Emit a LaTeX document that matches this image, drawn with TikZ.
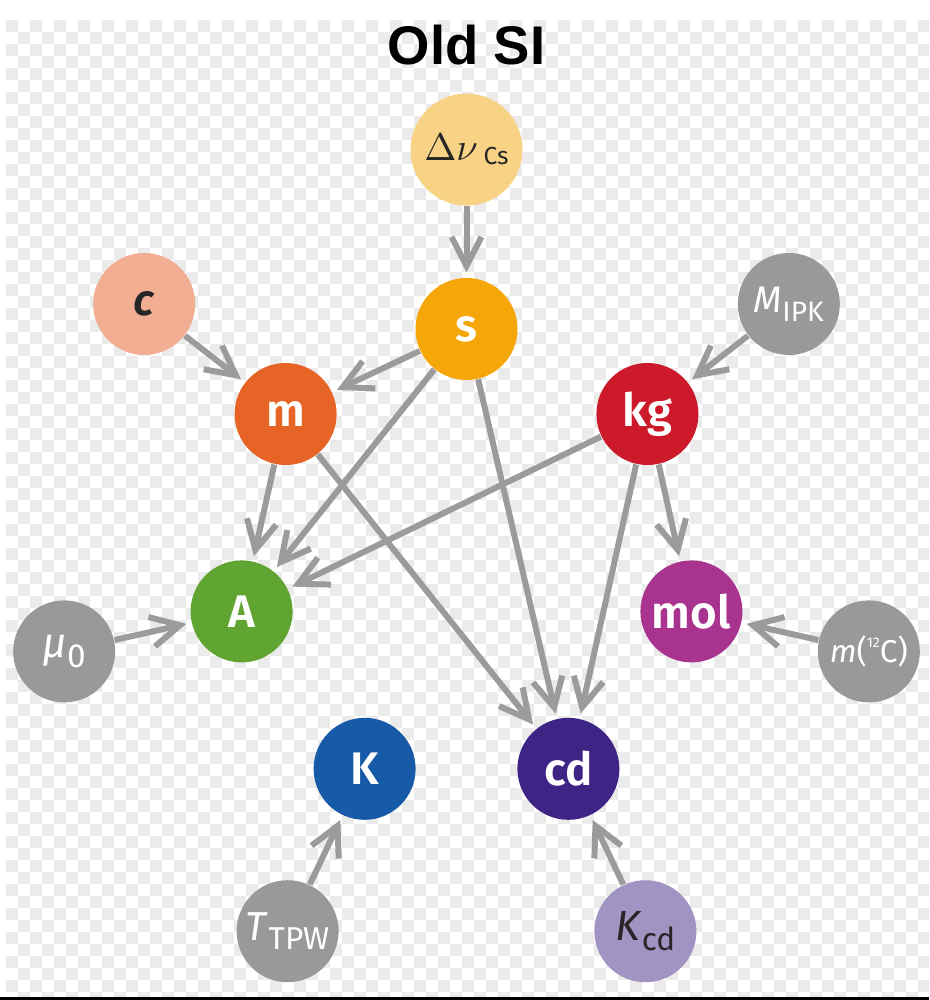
\documentclass[tikz,border=0pt]{standalone}
\usepackage{fontspec}
\setmainfont{Fira Sans}[BoldFont={Fira Sans SemiBold}]
\newfontfamily\titlefont{Liberation Sans}
\usepackage{tikz}
\usetikzlibrary{positioning,arrows.meta}
\definecolor{cdnu}{HTML}{F8D385}
\definecolor{cc}{HTML}{F2AE92}
\definecolor{cs}{HTML}{F5A70A}
\definecolor{cm}{HTML}{E76427}
\definecolor{ckg}{HTML}{CC1A2B}
\definecolor{cA}{HTML}{60A531}
\definecolor{cmol}{HTML}{A8348F}
\definecolor{cK}{HTML}{175BA8}
\definecolor{ccd}{HTML}{3E2585}
\definecolor{cconst}{HTML}{999999}
\definecolor{ckcd}{HTML}{A193C2}
\definecolor{link}{HTML}{9B9B9B}
\definecolor{checker}{HTML}{EBEBEB}
\definecolor{ink}{HTML}{262626}
\newcommand\lowsub[2][9]{\raisebox{-0.45ex}{\fontsize{#1}{#1}\selectfont #2}}

\begin{document}
\begin{tikzpicture}[
  >={Straight Barb[length=2.9mm,width=3mm]},
  unit/.style={circle, inner sep=0pt, minimum size=10.2mm, text=white, font=\fontsize{13}{13}\selectfont\bfseries},
  const/.style={circle, inner sep=0pt, minimum size=10.2mm, fill=cconst, text=white, font=\fontsize{11.5}{11.5}\selectfont},
  arr/.style={->, line width=1.7pt, draw=link, shorten >=1.4pt},
]
% page and checker background
\useasboundingbox (0,0) rectangle (9.29,-10);
\fill[white] (0,0) rectangle (9.29,-10);
\begin{scope}
  \clip (0.06,-0.2) rectangle (9.29,-9.97);
  \foreach \r [evaluate=\r as \ph using {mod(\r,2)*1.2}] in {0,...,81}
    \draw[checker, line width=1.2mm, dash pattern=on 1.2mm off 1.2mm, dash phase=\ph mm]
      (0.06,-0.26-0.12*\r) -- (9.29,-0.26-0.12*\r);
\end{scope}
\draw[line width=0.3mm] (0,-9.985) -- (9.29,-9.985);

% base units
\node[unit, fill=cs] (s) at (4.665,-3.29) {s};
\node[unit, fill=cdnu, minimum size=11.2mm, text=ink, font=\normalfont, above=7.1mm of s] (dnu)
  {{\fontsize{11}{11}\selectfont$\Delta\nu$}\,\raisebox{-0.4mm}{\fontsize{7}{7}\selectfont Cs}};
\node[font=\titlefont\bfseries\fontsize{15.5}{15.5}\selectfont, inner sep=0pt, above=2.7mm of dnu] (title) {Old SI};
\node[unit, fill=cm, left=7.75mm of s, yshift=-8.5mm] (m) {m};
\node[unit, fill=ckg, right=7.75mm of s, yshift=-8.5mm] (kg) {kg};
\node[unit, fill=cc, text=ink, font=\fontsize{12.5}{12.5}\selectfont\bfseries\itshape, left=3.8mm of m, yshift=11mm] (c) {c};
\node[const, font=\fontsize{10.5}{10.5}\selectfont, right=3.8mm of kg, yshift=11mm] (mipk) {\textit{M}\lowsub[8]{IPK}};
\node[unit, fill=cA, below=9.4mm of m, xshift=-4.4mm] (A) {A};
\node[unit, fill=cmol, below=9.4mm of kg, xshift=4.4mm] (mol) {mol};
\node[const, font=\fontsize{12}{12}\selectfont, left=7.4mm of A, yshift=-4mm] (mu) {\textit{μ}\lowsub[9.5]{0}};
\node[const, font=\fontsize{9}{9}\selectfont, right=7.4mm of mol, yshift=-4mm] (mc) {\textit{m}(\raisebox{0.9ex}{\fontsize{4}{4}\selectfont 12}C)};
\node[unit, fill=cK, below=5.4mm of A, xshift=12.3mm] (K) {K};
\node[unit, fill=ccd, below=5.4mm of mol, xshift=-12.3mm] (cd) {cd};
\node[const, below=5.9mm of K, xshift=-7.7mm] (ttpw) {\textit{T}\lowsub{TPW}};
\node[const, fill=ckcd, text=ink, font=\fontsize{12}{12}\selectfont, below=5.9mm of cd, xshift=7.7mm] (kcd) {\textit{K}\lowsub{cd}};

% dependencies
\draw[arr] (dnu) -- (s);
\draw[arr] (c) -- (m);
\draw[arr] (s) -- (m);
\draw[arr] (s) -- (A);
\draw[arr] (s) -- (cd);
\draw[arr] (mipk) -- (kg);
\draw[arr] (m) -- (A);
\draw[arr] (m) -- (cd);
\draw[arr] (kg) -- (A);
\draw[arr] (kg) -- (cd);
\draw[arr] (kg) -- (mol);
\draw[arr] (mu) -- (A);
\draw[arr] (mc) -- (mol);
\draw[arr] (ttpw) -- (K);
\draw[arr] (kcd) -- (cd);
\end{tikzpicture}
\end{document}
